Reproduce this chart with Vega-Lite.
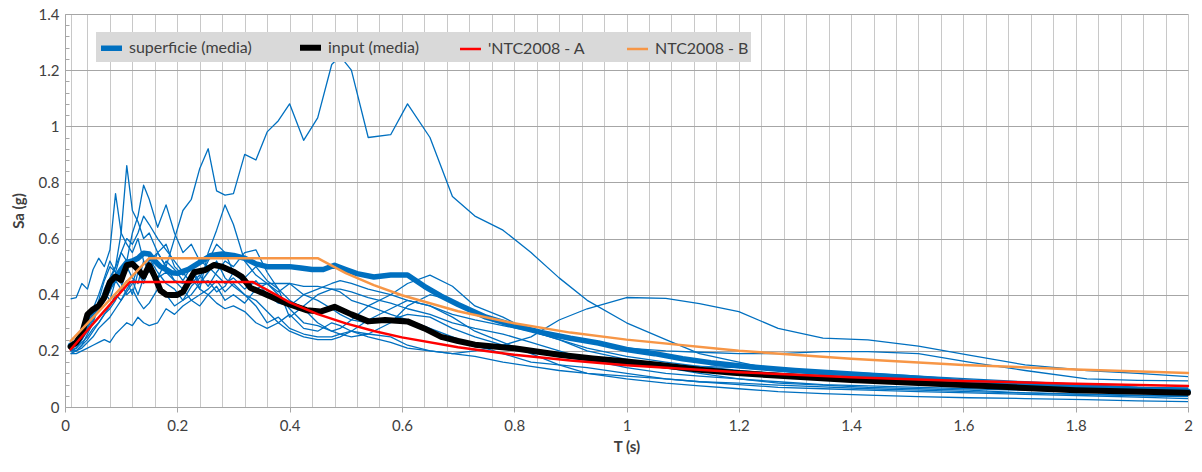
{
"$schema": "https://vega.github.io/schema/vega-lite/v6.json",
"width": 1123, "height": 393,
"autosize": "none",
"padding": {"left": 65, "top": 14, "right": 14, "bottom": 65},
"background": "white",
"config": {"view": {"stroke": null}, "font": "Lato", "axis": {"titleFontSize": 15, "titleFont": "Lato", "titleFontWeight": "bold", "titleColor": "#404040"}},
"datasets": {
"thin": [
{"T":0.01,"a":0.21,"b":0.385,"c":0.20,"d":0.20,"e":0.20,"f":0.19,"g":0.19,"h":0.20,"i":0.21,"j":0.20},
{"T":0.02,"a":0.22,"b":0.39,"c":0.21,"d":0.20,"e":0.21,"f":0.20,"g":0.19,"h":0.21,"i":0.22,"j":0.20},
{"T":0.03,"a":0.25,"b":0.44,"c":0.24,"d":0.22,"e":0.23,"f":0.22,"g":0.20,"h":0.24,"i":0.25,"j":0.21},
{"T":0.04,"a":0.29,"b":0.42,"c":0.27,"d":0.26,"e":0.25,"f":0.24,"g":0.21,"h":0.28,"i":0.30,"j":0.23},
{"T":0.05,"a":0.33,"b":0.49,"c":0.31,"d":0.30,"e":0.28,"f":0.27,"g":0.22,"h":0.32,"i":0.35,"j":0.25},
{"T":0.06,"a":0.36,"b":0.53,"c":0.35,"d":0.36,"e":0.30,"f":0.30,"g":0.23,"h":0.38,"i":0.40,"j":0.28},
{"T":0.07,"a":0.41,"b":0.50,"c":0.40,"d":0.42,"e":0.33,"f":0.33,"g":0.24,"h":0.45,"i":0.46,"j":0.30},
{"T":0.08,"a":0.38,"b":0.56,"c":0.45,"d":0.46,"e":0.35,"f":0.36,"g":0.23,"h":0.50,"i":0.52,"j":0.32},
{"T":0.09,"a":0.45,"b":0.76,"c":0.50,"d":0.50,"e":0.38,"f":0.40,"g":0.26,"h":0.48,"i":0.48,"j":0.35},
{"T":0.10,"a":0.42,"b":0.62,"c":0.62,"d":0.55,"e":0.42,"f":0.38,"g":0.28,"h":0.55,"i":0.44,"j":0.38},
{"T":0.11,"a":0.50,"b":0.58,"c":0.86,"d":0.52,"e":0.45,"f":0.42,"g":0.30,"h":0.60,"i":0.40,"j":0.41},
{"T":0.12,"a":0.46,"b":0.55,"c":0.70,"d":0.62,"e":0.40,"f":0.45,"g":0.29,"h":0.58,"i":0.42,"j":0.44},
{"T":0.13,"a":0.44,"b":0.60,"c":0.66,"d":0.68,"e":0.48,"f":0.40,"g":0.32,"h":0.62,"i":0.38,"j":0.50},
{"T":0.14,"a":0.52,"b":0.52,"c":0.60,"d":0.79,"e":0.44,"f":0.46,"g":0.30,"h":0.68,"i":0.35,"j":0.47},
{"T":0.15,"a":0.48,"b":0.50,"c":0.62,"d":0.74,"e":0.50,"f":0.53,"g":0.29,"h":0.65,"i":0.37,"j":0.52},
{"T":0.165,"a":0.55,"b":0.46,"c":0.55,"d":0.64,"e":0.46,"f":0.48,"g":0.30,"h":0.60,"i":0.42,"j":0.55},
{"T":0.18,"a":0.50,"b":0.48,"c":0.58,"d":0.72,"e":0.52,"f":0.44,"g":0.35,"h":0.56,"i":0.40,"j":0.50},
{"T":0.195,"a":0.60,"b":0.45,"c":0.50,"d":0.62,"e":0.49,"f":0.42,"g":0.33,"h":0.52,"i":0.36,"j":0.45},
{"T":0.21,"a":0.70,"b":0.44,"c":0.47,"d":0.55,"e":0.45,"f":0.38,"g":0.36,"h":0.48,"i":0.38,"j":0.42},
{"T":0.225,"a":0.74,"b":0.46,"c":0.50,"d":0.58,"e":0.50,"f":0.40,"g":0.38,"h":0.44,"i":0.43,"j":0.38},
{"T":0.24,"a":0.85,"b":0.42,"c":0.44,"d":0.52,"e":0.42,"f":0.44,"g":0.40,"h":0.47,"i":0.46,"j":0.36},
{"T":0.255,"a":0.92,"b":0.40,"c":0.45,"d":0.50,"e":0.55,"f":0.48,"g":0.42,"h":0.43,"i":0.52,"j":0.40},
{"T":0.27,"a":0.77,"b":0.43,"c":0.41,"d":0.47,"e":0.63,"f":0.52,"g":0.45,"h":0.48,"i":0.58,"j":0.37},
{"T":0.285,"a":0.755,"b":0.38,"c":0.43,"d":0.44,"e":0.72,"f":0.46,"g":0.41,"h":0.52,"i":0.55,"j":0.35},
{"T":0.30,"a":0.76,"b":0.40,"c":0.48,"d":0.46,"e":0.65,"f":0.43,"g":0.44,"h":0.50,"i":0.48,"j":0.36},
{"T":0.32,"a":0.90,"b":0.37,"c":0.46,"d":0.42,"e":0.52,"f":0.40,"g":0.40,"h":0.55,"i":0.44,"j":0.34},
{"T":0.34,"a":0.88,"b":0.42,"c":0.50,"d":0.45,"e":0.47,"f":0.36,"g":0.38,"h":0.56,"i":0.44,"j":0.30},
{"T":0.36,"a":0.98,"b":0.44,"c":0.45,"d":0.40,"e":0.44,"f":0.30,"g":0.34,"h":0.48,"i":0.44,"j":0.28},
{"T":0.38,"a":1.02,"b":0.41,"c":0.42,"d":0.37,"e":0.40,"f":0.32,"g":0.30,"h":0.42,"i":0.44,"j":0.30},
{"T":0.40,"a":1.08,"b":0.44,"c":0.38,"d":0.36,"e":0.35,"f":0.28,"g":0.33,"h":0.32,"i":0.44,"j":0.27},
{"T":0.425,"a":0.95,"b":0.40,"c":0.35,"d":0.40,"e":0.30,"f":0.26,"g":0.28,"h":0.36,"i":0.43,"j":0.25},
{"T":0.45,"a":1.03,"b":0.38,"c":0.30,"d":0.42,"e":0.29,"f":0.25,"g":0.27,"h":0.40,"i":0.43,"j":0.24},
{"T":0.475,"a":1.22,"b":0.35,"c":0.27,"d":0.44,"e":0.27,"f":0.25,"g":0.30,"h":0.42,"i":0.42,"j":0.24},
{"T":0.49,"a":1.25,"b":0.33,"c":0.26,"d":0.45,"e":0.28,"f":0.26,"g":0.29,"h":0.41,"i":0.42,"j":0.25},
{"T":0.51,"a":1.2,"b":0.31,"c":0.25,"d":0.44,"e":0.31,"f":0.27,"g":0.27,"h":0.38,"i":0.41,"j":0.27},
{"T":0.54,"a":0.96,"b":0.30,"c":0.26,"d":0.42,"e":0.36,"f":0.26,"g":0.25,"h":0.36,"i":0.39,"j":0.31},
{"T":0.58,"a":0.97,"b":0.31,"c":0.30,"d":0.40,"e":0.40,"f":0.25,"g":0.23,"h":0.33,"i":0.37,"j":0.35},
{"T":0.61,"a":1.08,"b":0.33,"c":0.36,"d":0.38,"e":0.44,"f":0.22,"g":0.21,"h":0.31,"i":0.35,"j":0.38},
{"T":0.65,"a":0.96,"b":0.32,"c":0.40,"d":0.36,"e":0.47,"f":0.20,"g":0.20,"h":0.28,"i":0.33,"j":0.36},
{"T":0.69,"a":0.75,"b":0.28,"c":0.38,"d":0.33,"e":0.43,"f":0.19,"g":0.19,"h":0.25,"i":0.30,"j":0.32},
{"T":0.73,"a":0.68,"b":0.25,"c":0.33,"d":0.31,"e":0.36,"f":0.20,"g":0.18,"h":0.22,"i":0.28,"j":0.27},
{"T":0.78,"a":0.63,"b":0.22,"c":0.30,"d":0.29,"e":0.32,"f":0.22,"g":0.16,"h":0.19,"i":0.26,"j":0.23},
{"T":0.83,"a":0.55,"b":0.20,"c":0.27,"d":0.27,"e":0.27,"f":0.25,"g":0.145,"h":0.16,"i":0.23,"j":0.19},
{"T":0.88,"a":0.46,"b":0.18,"c":0.24,"d":0.25,"e":0.24,"f":0.31,"g":0.13,"h":0.15,"i":0.20,"j":0.15},
{"T":0.93,"a":0.38,"b":0.165,"c":0.21,"d":0.23,"e":0.20,"f":0.35,"g":0.12,"h":0.14,"i":0.17,"j":0.12},
{"T":1.00,"a":0.30,"b":0.155,"c":0.18,"d":0.21,"e":0.17,"f":0.39,"g":0.11,"h":0.12,"i":0.14,"j":0.10},
{"T":1.07,"a":0.24,"b":0.15,"c":0.16,"d":0.20,"e":0.14,"f":0.387,"g":0.10,"h":0.10,"i":0.12,"j":0.085},
{"T":1.13,"a":0.19,"b":0.145,"c":0.145,"d":0.195,"e":0.12,"f":0.368,"g":0.09,"h":0.09,"i":0.11,"j":0.075},
{"T":1.20,"a":0.16,"b":0.14,"c":0.13,"d":0.19,"e":0.10,"f":0.34,"g":0.085,"h":0.08,"i":0.10,"j":0.065},
{"T":1.27,"a":0.13,"b":0.13,"c":0.12,"d":0.19,"e":0.085,"f":0.28,"g":0.078,"h":0.07,"i":0.09,"j":0.055},
{"T":1.35,"a":0.115,"b":0.125,"c":0.11,"d":0.197,"e":0.078,"f":0.245,"g":0.072,"h":0.065,"i":0.08,"j":0.048},
{"T":1.43,"a":0.10,"b":0.12,"c":0.10,"d":0.197,"e":0.07,"f":0.239,"g":0.065,"h":0.06,"i":0.075,"j":0.042},
{"T":1.52,"a":0.09,"b":0.11,"c":0.09,"d":0.19,"e":0.065,"f":0.217,"g":0.06,"h":0.055,"i":0.07,"j":0.037},
{"T":1.61,"a":0.08,"b":0.10,"c":0.085,"d":0.16,"e":0.06,"f":0.185,"g":0.055,"h":0.05,"i":0.065,"j":0.033},
{"T":1.71,"a":0.07,"b":0.09,"c":0.08,"d":0.13,"e":0.05,"f":0.15,"g":0.05,"h":0.045,"i":0.06,"j":0.03},
{"T":1.82,"a":0.062,"b":0.08,"c":0.075,"d":0.10,"e":0.045,"f":0.13,"g":0.045,"h":0.04,"i":0.055,"j":0.026},
{"T":1.91,"a":0.056,"b":0.07,"c":0.07,"d":0.095,"e":0.04,"f":0.12,"g":0.042,"h":0.035,"i":0.05,"j":0.022},
{"T":2.00,"a":0.05,"b":0.065,"c":0.068,"d":0.093,"e":0.037,"f":0.108,"g":0.04,"h":0.03,"i":0.047,"j":0.019}
],
"sup": [
{"T":0.01,"Sa":0.22},{"T":0.02,"Sa":0.23},{"T":0.03,"Sa":0.26},{"T":0.04,"Sa":0.30},{"T":0.05,"Sa":0.33},
{"T":0.06,"Sa":0.36},{"T":0.07,"Sa":0.39},{"T":0.08,"Sa":0.43},{"T":0.09,"Sa":0.46},{"T":0.10,"Sa":0.49},
{"T":0.11,"Sa":0.515},{"T":0.12,"Sa":0.52},{"T":0.13,"Sa":0.53},{"T":0.14,"Sa":0.548},{"T":0.15,"Sa":0.545},
{"T":0.16,"Sa":0.52},{"T":0.17,"Sa":0.50},{"T":0.18,"Sa":0.49},{"T":0.19,"Sa":0.478},{"T":0.20,"Sa":0.476},
{"T":0.22,"Sa":0.49},{"T":0.24,"Sa":0.515},{"T":0.26,"Sa":0.54},{"T":0.28,"Sa":0.545},{"T":0.30,"Sa":0.54},
{"T":0.32,"Sa":0.53},{"T":0.34,"Sa":0.51},{"T":0.36,"Sa":0.50},{"T":0.38,"Sa":0.50},{"T":0.40,"Sa":0.50},
{"T":0.42,"Sa":0.495},{"T":0.44,"Sa":0.49},{"T":0.46,"Sa":0.49},{"T":0.48,"Sa":0.505},{"T":0.50,"Sa":0.49},
{"T":0.52,"Sa":0.475},{"T":0.55,"Sa":0.463},{"T":0.58,"Sa":0.47},{"T":0.61,"Sa":0.47},{"T":0.64,"Sa":0.43},
{"T":0.67,"Sa":0.395},{"T":0.70,"Sa":0.365},{"T":0.75,"Sa":0.32},{"T":0.80,"Sa":0.29},{"T":0.85,"Sa":0.265},
{"T":0.90,"Sa":0.245},{"T":0.95,"Sa":0.228},{"T":1.00,"Sa":0.205},{"T":1.05,"Sa":0.19},{"T":1.10,"Sa":0.172},
{"T":1.15,"Sa":0.158},{"T":1.20,"Sa":0.147},{"T":1.25,"Sa":0.138},{"T":1.30,"Sa":0.13},{"T":1.40,"Sa":0.118},
{"T":1.50,"Sa":0.105},{"T":1.60,"Sa":0.09},{"T":1.70,"Sa":0.08},{"T":1.80,"Sa":0.072},{"T":1.90,"Sa":0.063},
{"T":2.00,"Sa":0.056}
],
"inp": [
{"T":0.01,"Sa":0.215},{"T":0.02,"Sa":0.23},{"T":0.03,"Sa":0.26},{"T":0.04,"Sa":0.33},{"T":0.05,"Sa":0.348},
{"T":0.06,"Sa":0.36},{"T":0.07,"Sa":0.39},{"T":0.08,"Sa":0.445},{"T":0.09,"Sa":0.465},{"T":0.10,"Sa":0.452},
{"T":0.11,"Sa":0.505},{"T":0.12,"Sa":0.51},{"T":0.13,"Sa":0.49},{"T":0.14,"Sa":0.465},{"T":0.15,"Sa":0.505},
{"T":0.16,"Sa":0.464},{"T":0.17,"Sa":0.415},{"T":0.18,"Sa":0.40},{"T":0.19,"Sa":0.399},{"T":0.20,"Sa":0.399},
{"T":0.21,"Sa":0.41},{"T":0.22,"Sa":0.445},{"T":0.23,"Sa":0.48},{"T":0.25,"Sa":0.488},{"T":0.265,"Sa":0.506},
{"T":0.28,"Sa":0.50},{"T":0.30,"Sa":0.482},{"T":0.315,"Sa":0.464},{"T":0.33,"Sa":0.425},{"T":0.36,"Sa":0.399},
{"T":0.395,"Sa":0.369},{"T":0.43,"Sa":0.345},{"T":0.455,"Sa":0.34},{"T":0.48,"Sa":0.357},{"T":0.51,"Sa":0.33},
{"T":0.54,"Sa":0.305},{"T":0.57,"Sa":0.31},{"T":0.61,"Sa":0.305},{"T":0.64,"Sa":0.28},{"T":0.67,"Sa":0.25},
{"T":0.70,"Sa":0.235},{"T":0.73,"Sa":0.222},{"T":0.80,"Sa":0.209},{"T":0.88,"Sa":0.186},{"T":0.94,"Sa":0.173},
{"T":1.00,"Sa":0.162},{"T":1.06,"Sa":0.15},{"T":1.13,"Sa":0.133},{"T":1.19,"Sa":0.122},{"T":1.25,"Sa":0.114},
{"T":1.31,"Sa":0.107},{"T":1.40,"Sa":0.096},{"T":1.50,"Sa":0.087},{"T":1.60,"Sa":0.078},{"T":1.70,"Sa":0.069},
{"T":1.80,"Sa":0.06},{"T":1.90,"Sa":0.055},{"T":2.00,"Sa":0.051}
],
"ntca": [
{"T":0.01,"Sa":0.205},{"T":0.115,"Sa":0.445},{"T":0.335,"Sa":0.445},{"T":0.40,"Sa":0.373},{"T":0.45,"Sa":0.331},
{"T":0.50,"Sa":0.298},{"T":0.55,"Sa":0.271},{"T":0.60,"Sa":0.248},{"T":0.70,"Sa":0.213},{"T":0.80,"Sa":0.186},
{"T":0.90,"Sa":0.166},{"T":1.00,"Sa":0.149},{"T":1.20,"Sa":0.124},{"T":1.40,"Sa":0.106},{"T":1.60,"Sa":0.093},
{"T":1.80,"Sa":0.083},{"T":2.00,"Sa":0.075}
],
"ntcb": [
{"T":0.01,"Sa":0.235},{"T":0.15,"Sa":0.53},{"T":0.45,"Sa":0.53},{"T":0.50,"Sa":0.477},{"T":0.55,"Sa":0.434},
{"T":0.60,"Sa":0.398},{"T":0.70,"Sa":0.341},{"T":0.80,"Sa":0.298},{"T":0.90,"Sa":0.265},{"T":1.00,"Sa":0.24},
{"T":1.20,"Sa":0.20},{"T":1.40,"Sa":0.172},{"T":1.60,"Sa":0.15},{"T":1.80,"Sa":0.134},{"T":2.00,"Sa":0.121}
]
},
"encoding": {
"x": {"field": "T", "type": "quantitative",
 "scale": {"domain": [0, 2], "nice": false, "zero": true},
 "axis": {"values": [0,0.01,0.04,0.08,0.12,0.16,0.2,0.24,0.28,0.32,0.36,0.4,0.44,0.48,0.52,0.56,0.6,0.64,0.68,0.72,0.76,0.8,0.84,0.88,0.92,0.96,1,1.04,1.08,1.12,1.16,1.2,1.24,1.28,1.32,1.36,1.4,1.44,1.48,1.52,1.56,1.6,1.64,1.68,1.72,1.76,1.8,1.84,1.88,1.92,1.96,2],
  "title": "T (s)", "titleFont": "Lato", "titleFontWeight": "bold", "titleFontSize": 15, "titleColor": "#404040", "titlePadding": 6,
  "labelExpr": "abs(datum.value*5-round(datum.value*5))<0.0001 ? format(datum.value,'~g') : ''",
  "labelFont": "Lato", "labelFontSize": 15, "labelColor": "#404040", "labelPadding": 6, "labelOverlap": false, "labelFlush": false,
  "grid": true, "gridColor": "#C8C8C8", "gridWidth": 1,
  "domainColor": "#A6A6A6", "tickColor": "#A6A6A6", "tickSize": 5,
  "tickOpacity": {"condition": {"test": "abs(datum.value*5-round(datum.value*5))<0.0001", "value": 1}, "value": 0}}},
"y": {"field": "Sa", "type": "quantitative",
 "scale": {"domain": [0, 1.4], "nice": false},
 "axis": {"values": [0,0.04,0.08,0.12,0.16,0.2,0.24,0.28,0.32,0.36,0.4,0.44,0.48,0.52,0.56,0.6,0.64,0.68,0.72,0.76,0.8,0.84,0.88,0.92,0.96,1,1.04,1.08,1.12,1.16,1.2,1.24,1.28,1.32,1.36,1.4],
  "title": "Sa (g)", "titleFont": "Lato", "titleFontWeight": "bold", "titleFontSize": 15, "titleColor": "#404040", "titlePadding": 12,
  "labelExpr": "abs(datum.value*5-round(datum.value*5))<0.0001 ? format(datum.value,'~g') : ''",
  "labelFont": "Lato", "labelFontSize": 15, "labelColor": "#404040", "labelPadding": 10, "labelOverlap": false, "labelFlush": false,
  "grid": true, "gridColor": "#A6A6A6", "gridWidth": 1,
  "gridOpacity": {"condition": {"test": "abs(datum.value*5-round(datum.value*5))<0.0001", "value": 1}, "value": 0},
  "domainColor": "#A6A6A6", "tickColor": "#A6A6A6", "tickSize": -4}}
},
"layer": [
{"data": {"name": "thin"},
 "transform": [{"fold": ["a","b","c","d","e","f","g","h","i","j"], "as": ["run", "Sa"]}],
 "mark": {"type": "line", "color": "#0070C0", "strokeWidth": 1.3, "strokeJoin": "round"},
 "encoding": {"detail": {"field": "run", "type": "nominal"}}},
{"data": {"name": "sup"},
 "mark": {"type": "line", "strokeJoin": "round", "strokeCap": "round"},
 "encoding": {
  "color": {"datum": "superficie (media)", "type": "nominal",
   "scale": {"domain": ["superficie (media)","input (media)","'NTC2008 - A","NTC2008 - B"], "range": ["#0070C0","#000000","#FF0000","#F79646"]},
   "legend": {"orient": "none", "legendX": 31, "legendY": 18, "direction": "horizontal", "columns": 4, "title": null,
    "fillColor": "#D9D9D9", "padding": 2, "symbolType": "stroke", "symbolSize": 441, "columnPadding": 36, "labelOffset": 4,
    "labelFont": "Lato", "labelFontSize": 16, "labelColor": "#404040", "labelLimit": 300, "zindex": 1}},
  "strokeWidth": {"datum": "superficie (media)", "type": "ordinal",
   "scale": {"type": "ordinal", "domain": ["superficie (media)","input (media)","'NTC2008 - A","NTC2008 - B"], "range": [5.5, 6, 2.5, 2.5]},
   "legend": {"orient": "none", "legendX": 31, "legendY": 18, "direction": "horizontal", "columns": 4, "title": null,
    "fillColor": "#D9D9D9", "padding": 2, "symbolType": "stroke", "symbolSize": 441, "columnPadding": 36, "labelOffset": 4,
    "labelFont": "Lato", "labelFontSize": 16, "labelColor": "#404040", "labelLimit": 300, "zindex": 1}}}},
{"data": {"name": "inp"},
 "mark": {"type": "line", "strokeJoin": "round", "strokeCap": "round"},
 "encoding": {
  "color": {"datum": "input (media)", "type": "nominal"},
  "strokeWidth": {"datum": "input (media)", "type": "ordinal",
   "scale": {"type": "ordinal", "domain": ["superficie (media)","input (media)","'NTC2008 - A","NTC2008 - B"], "range": [5.5, 6, 2.5, 2.5]}}}},
{"data": {"name": "ntca"},
 "mark": {"type": "line", "strokeJoin": "round", "strokeCap": "round"},
 "encoding": {
  "color": {"datum": "'NTC2008 - A", "type": "nominal"},
  "strokeWidth": {"datum": "'NTC2008 - A", "type": "ordinal",
   "scale": {"type": "ordinal", "domain": ["superficie (media)","input (media)","'NTC2008 - A","NTC2008 - B"], "range": [5.5, 6, 2.5, 2.5]}}}},
{"data": {"name": "ntcb"},
 "mark": {"type": "line", "strokeJoin": "round", "strokeCap": "round"},
 "encoding": {
  "color": {"datum": "NTC2008 - B", "type": "nominal"},
  "strokeWidth": {"datum": "NTC2008 - B", "type": "ordinal",
   "scale": {"type": "ordinal", "domain": ["superficie (media)","input (media)","'NTC2008 - A","NTC2008 - B"], "range": [5.5, 6, 2.5, 2.5]}}}}
]
}
